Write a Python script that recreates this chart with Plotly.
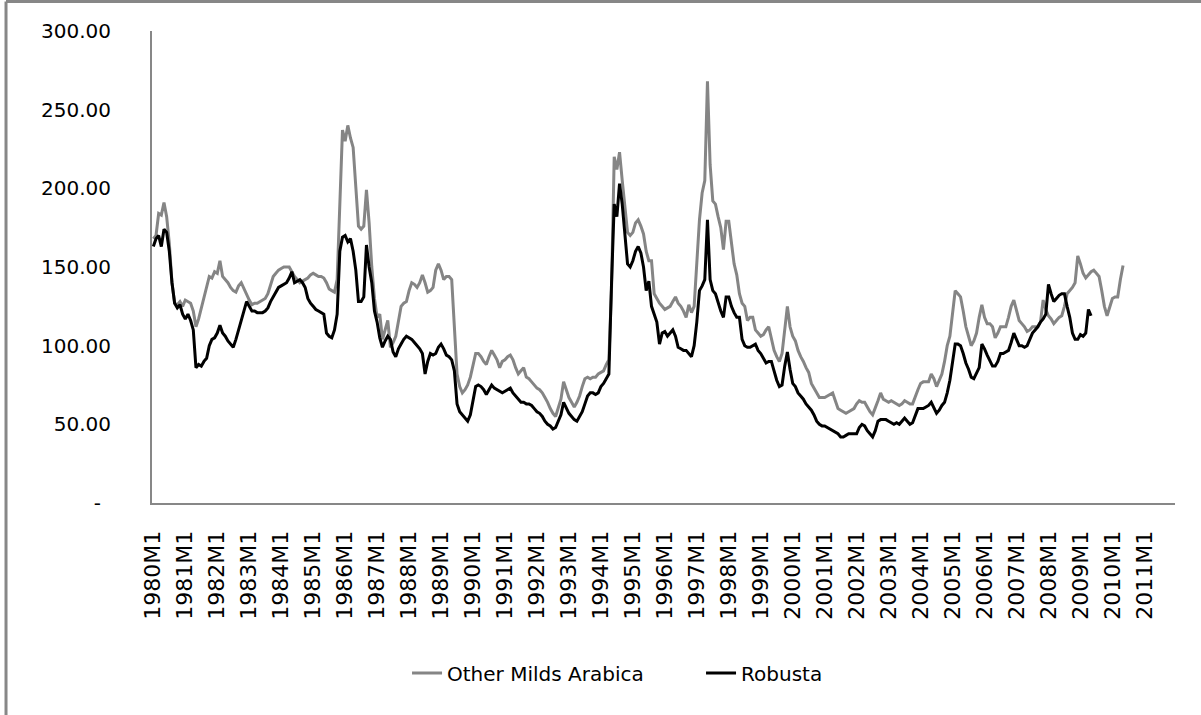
import plotly.graph_objects as go

# monthly price indices (1980M1 onwards)
arabica = [
    168, 170, 184, 183, 191, 182, 165, 140, 127, 126, 128, 125,  # 1980
    129, 128, 127, 122, 112, 117, 124, 130, 136, 144, 143, 147,  # 1981
    146, 154, 144, 142, 140, 137, 135, 134, 138, 140, 136, 133,  # 1982
    129, 126, 127, 127, 128, 129, 130, 133, 138, 144, 146, 148,  # 1983
    149, 150, 150, 150, 147, 144, 142, 140, 141, 142, 143, 145,  # 1984
    146, 145, 144, 144, 143, 140, 136, 135, 134, 142, 190, 237,  # 1985
    230, 240, 232, 226, 201, 176, 174, 176, 199, 178, 150, 130,  # 1986
    118, 120, 104, 110, 116, 99, 102, 106, 115, 125, 127, 128,   # 1987
    135, 140, 139, 137, 140, 145, 140, 134, 135, 137, 148, 152,  # 1988
    148, 142, 144, 144, 142, 110, 82, 74, 70, 72, 75, 80,        # 1989
    88, 95, 95, 93, 90, 88, 93, 97, 94, 91, 86, 90,              # 1990
    91, 93, 94, 91, 86, 82, 84, 86, 80, 79, 77, 75,              # 1991
    73, 72, 70, 67, 64, 60, 57, 55, 60, 66, 77, 72,              # 1992
    67, 64, 61, 64, 68, 74, 79, 80, 79, 80, 80, 82,              # 1993
    83, 84, 88, 91, 137, 220, 212, 223, 205, 190, 172, 170,      # 1994
    172, 178, 180, 176, 171, 160, 154, 154, 133, 130, 127, 125,  # 1995
    123, 124, 125, 128, 131, 127, 125, 122, 118, 126, 121, 125,  # 1996
    150, 180, 197, 205, 268, 215, 192, 190, 182, 175, 161, 179,  # 1997
    179, 165, 152, 145, 133, 127, 125, 116, 118, 118, 110, 108,  # 1998
    106, 107, 110, 112, 105, 97, 93, 90, 95, 110, 125, 112,      # 1999
    106, 103, 97, 93, 90, 86, 83, 76, 73, 70, 67, 67,            # 2000
    67, 68, 69, 70, 65, 60, 59, 58, 57, 58, 59, 60,              # 2001
    63, 65, 64, 64, 61, 58, 56, 60, 65, 70, 66, 65,              # 2002
    64, 65, 64, 63, 62, 63, 65, 64, 63, 63, 68, 72,              # 2003
    76, 77, 77, 77, 82, 79, 74, 78, 82, 90, 100, 106,            # 2004
    120, 135, 133, 131, 122, 112, 106, 100, 103, 108, 118, 126,  # 2005
    118, 114, 114, 112, 105, 108, 112, 112, 112, 118, 125, 129,  # 2006
    122, 116, 114, 112, 109, 110, 112, 112, 112, 115, 129, 123,  # 2007
    119, 117, 114, 116, 118, 119, 125, 133, 135, 137, 140, 157,  # 2008
    152, 146, 143, 145, 147, 148, 146, 144, 135, 125, 119, 124,  # 2009
    130, 131, 131, 142, 151,                                     # 2010
]

robusta = [
    163, 168, 170, 163, 174, 172, 160, 140, 127, 124, 126, 120,  # 1980
    117, 120, 116, 110, 86, 88, 87, 90, 92, 100, 104, 105,       # 1981
    108, 113, 108, 106, 103, 101, 99, 104, 110, 115, 122, 128,   # 1982
    125, 122, 122, 121, 121, 121, 122, 124, 128, 131, 134, 137,  # 1983
    138, 139, 140, 143, 147, 140, 141, 142, 140, 137, 130, 127,  # 1984
    125, 123, 122, 121, 120, 108, 106, 105, 110, 120, 160, 169,  # 1985
    170, 166, 168, 160, 148, 128, 128, 131, 164, 150, 140, 122,  # 1986
    115, 105, 99, 103, 106, 104, 96, 93, 98, 101, 104, 106,      # 1987
    105, 104, 102, 100, 98, 95, 82, 90, 95, 94, 95, 99,          # 1988
    101, 98, 94, 93, 91, 84, 63, 58, 56, 54, 52, 56,             # 1989
    65, 74, 75, 74, 72, 69, 72, 75, 73, 72, 71, 70,              # 1990
    71, 72, 73, 70, 68, 66, 64, 64, 63, 63, 62, 60,              # 1991
    58, 57, 55, 52, 50, 49, 47, 48, 52, 56, 64, 60,              # 1992
    57, 55, 53, 52, 55, 58, 63, 68, 70, 70, 69, 70,              # 1993
    74, 76, 79, 82, 140, 190, 182, 203, 190, 170, 152, 150,      # 1994
    154, 160, 163, 159, 150, 135, 141, 125, 120, 115, 101, 108,  # 1995
    109, 106, 108, 110, 106, 99, 98, 97, 97, 95, 93, 100,        # 1996
    115, 135, 138, 142, 180, 142, 135, 133, 127, 122, 118, 131,  # 1997
    131, 125, 121, 118, 118, 104, 100, 99, 99, 100, 101, 97,     # 1998
    95, 92, 89, 90, 90, 84, 78, 74, 75, 87, 96, 85,              # 1999
    76, 74, 70, 68, 66, 63, 61, 59, 56, 52, 50, 49,              # 2000
    49, 48, 47, 46, 45, 44, 42, 42, 43, 44, 44, 44,              # 2001
    44, 48, 50, 49, 46, 44, 42, 46, 52, 53, 53, 53,              # 2002
    52, 51, 50, 51, 50, 52, 54, 52, 50, 51, 55, 60,              # 2003
    60, 60, 61, 62, 64, 60, 57, 59, 62, 64, 70, 78,              # 2004
    90, 101, 101, 100, 95, 89, 85, 80, 79, 83, 86, 101,          # 2005
    98, 94, 90, 87, 87, 90, 95, 95, 96, 97, 102, 108,            # 2006
    104, 100, 100, 99, 100, 104, 108, 110, 112, 115, 117, 120,   # 2007
    139, 133, 128, 130, 132, 133, 133, 125, 118, 108, 104, 104,  # 2008
    107, 106, 108, 123, 119,                                     # 2009
]

# category axis runs 1980M1 .. 2011M12
months = [f"{y}M{m}" for y in range(1980, 2012) for m in range(1, 13)]
x_ticks = [f"{y}M1" for y in range(1980, 2012)]

y_ticks = [0, 50, 100, 150, 200, 250, 300]
y_labels = ["-\u2002", "50.00", "100.00", "150.00", "200.00", "250.00", "300.00"]

FONT = dict(family="DejaVu Sans", size=20, color="black")
AXIS_GREY = "#878787"

fig = go.Figure()

fig.add_trace(go.Scatter(
    x=months[:len(arabica)], y=arabica, mode="lines",
    name="Other Milds Arabica",
    line=dict(color="#858585", width=3),
))
fig.add_trace(go.Scatter(
    x=months[:len(robusta)], y=robusta, mode="lines",
    name="Robusta",
    line=dict(color="black", width=3),
))

# outer chart frame (only top and left edges are visible in the source)
fig.add_shape(type="line", xref="paper", yref="paper",
              x0=-0.1427, x1=1.05, y0=1.0625, y1=1.0625,
              line=dict(color=AXIS_GREY, width=3))
fig.add_shape(type="line", xref="paper", yref="paper",
              x0=-0.1427, x1=-0.1427, y0=1.0625, y1=-0.46,
              line=dict(color=AXIS_GREY, width=3))

fig.update_layout(
    width=1201, height=715,
    margin=dict(l=152, r=26, t=31, b=212, autoexpand=False),
    paper_bgcolor="white", plot_bgcolor="white",
    font=FONT,
    showlegend=True,
    legend=dict(
        orientation="h", x=0.2493, xanchor="left",
        y=-0.36, yanchor="middle",
        font=FONT, entrywidth=249, entrywidthmode="pixels",
    ),
    xaxis=dict(
        type="category", categoryorder="array", categoryarray=months,
        range=[-0.5, len(months) - 0.5], automargin=False,
        tickmode="array", tickvals=x_ticks, ticktext=x_ticks,
        tickangle=-90, ticks="", ticklabelstandoff=17,
        showgrid=False, zeroline=False,
        showline=True, linecolor=AXIS_GREY, linewidth=2,
        tickfont=dict(family="DejaVu Sans", size=22, color="black"),
    ),
    yaxis=dict(
        range=[0, 300], automargin=False,
        tickmode="array", tickvals=y_ticks, ticktext=y_labels,
        ticks="", ticklabelstandoff=35,
        showgrid=False, zeroline=False,
        showline=True, linecolor=AXIS_GREY, linewidth=2,
        tickfont=FONT,
    ),
)

# the page's default body margin would push the chart 8px right and down
fig.write_html(
    "out.html",
    config={"displayModeBar": False},
    post_script="document.body.style.margin = '0';",
)
